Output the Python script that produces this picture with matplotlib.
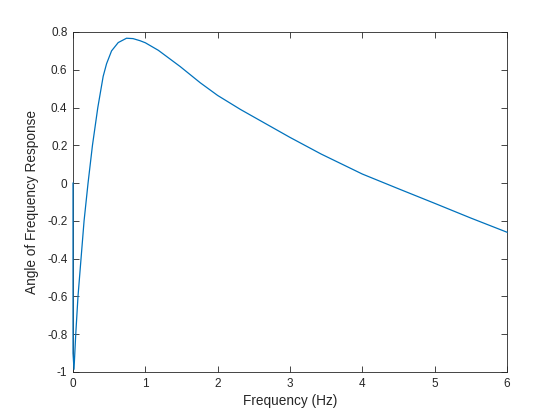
import matplotlib
matplotlib.use("Agg")
import matplotlib.pyplot as plt

# readings taken off the reference curve
freq = [0.0, 0.0, 0.014, 0.025, 0.038, 0.069, 0.111, 0.153, 0.208, 0.269,
        0.343, 0.417, 0.464, 0.533, 0.625, 0.74, 0.83, 0.926, 1.0, 1.18,
        1.482, 1.76, 2.0, 2.315, 2.5, 2.75, 3.0, 3.43, 4.0, 4.5, 5.0, 5.5, 6.0]
angle = [0.0, -0.9, -0.986, -0.9, -0.8, -0.6, -0.4, -0.2, 0.0, 0.2,
         0.4, 0.565, 0.632, 0.70, 0.744, 0.767, 0.765, 0.754, 0.743, 0.703,
         0.617, 0.531, 0.464, 0.39, 0.35, 0.296, 0.242, 0.154, 0.048, -0.03, -0.107, -0.185, -0.26]

x_ticks = [0, 1, 2, 3, 4, 5, 6]
y_ticks = [-1, -0.8, -0.6, -0.4, -0.2, 0, 0.2, 0.4, 0.6, 0.8]
y_labels = ["-1", "-0.8", "-0.6", "-0.4", "-0.2", "0", "0.2", "0.4", "0.6", "0.8"]

plt.rcParams["font.family"] = ["Liberation Sans", "DejaVu Sans"]
axis_col = "#262626"

fig = plt.figure(figsize=(5.6, 4.2), dpi=100)
ax = fig.add_axes([73 / 560, 48 / 420, 434 / 560, 340 / 420])
ax.plot(freq, angle, color="#0072BD", linewidth=0.9, clip_on=False, zorder=3)

ax.set_xlim(0, 6)
ax.set_ylim(-1, 0.8)
ax.set_xticks(x_ticks)
ax.set_xticklabels([str(t) for t in x_ticks])
ax.set_yticks(y_ticks)
ax.set_yticklabels(y_labels)
ax.tick_params(direction="in", top=True, right=True, length=4, width=0.6,
               colors=axis_col, labelsize=8.5, pad=4)
for s in ax.spines.values():
    s.set_color(axis_col)
    s.set_linewidth(0.6)

ax.set_xlabel("Frequency (Hz)", fontsize=9.8, color=axis_col, labelpad=3)
ax.set_ylabel("Angle of Frequency Response", fontsize=9.8, color=axis_col, labelpad=6)

fig.savefig("out.png", dpi=100)
